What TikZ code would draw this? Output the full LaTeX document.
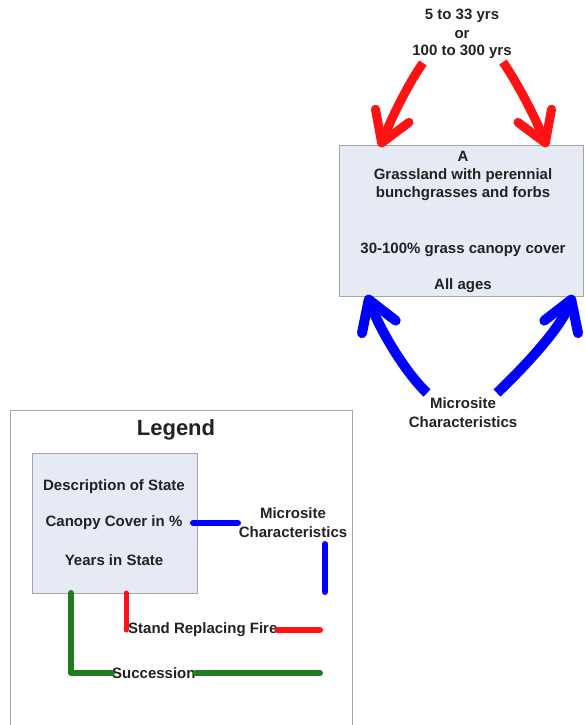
\documentclass[tikz,border=0pt]{standalone}
\usepackage{fontspec}
\setmainfont{Liberation Sans}
\usetikzlibrary{arrows.meta}
\definecolor{statefill}{HTML}{E6EAF4}
\definecolor{boxedge}{HTML}{A6A6A6}
\definecolor{redarr}{HTML}{FF1212}
\definecolor{bluearr}{HTML}{0000FF}
\definecolor{greenarr}{HTML}{207A20}
\definecolor{txt}{HTML}{222222}
\begin{document}
\begin{tikzpicture}[x=1pt,y=-1pt,
  lbl/.style={font=\bfseries\fontsize{15}{19}\selectfont, align=center, inner sep=0pt, text=txt},
  bl/.style={lbl, anchor=base},
  statebox/.style={draw=boxedge, fill=statefill, line width=1pt, inner sep=0pt, anchor=north west},
  bigarrow/.style={line width=9pt, -{Straight Barb[length=29pt,width=36pt,round]}},
  legline/.style={line width=6pt, line cap=round, line join=round}]
\useasboundingbox (0,0) rectangle (584,725);

% ---- main state ----
\node[statebox, minimum width=244pt, minimum height=151pt] (A) at (339,145) {};
\node[bl] (Aname) at (463,161) {A};
\node[bl] (Adesc1) at (463,179) {Grassland with perennial};
\node[bl] (Adesc2) at (463,197) {bunchgrasses and forbs};
\node[bl] (Acover) at (463,253) {30-100\% grass canopy cover};
\node[bl] (Aages) at (463,289) {All ages};

\node[bl] (yrs1) at (462,20) {5 to 33 yrs};
\node[bl] (yrs2) at (462,38) {or};
\node[bl] (yrs3) at (462,56) {100 to 300 yrs};
\node[bl] (micro1) at (463,408) {Microsite};
\node[bl] (micro2) at (463,427) {Characteristics};

% arrow end coordinates
\coordinate (r1s) at (423,63);  \coordinate (r1e) at (380,147);
\coordinate (r2s) at (503,62);  \coordinate (r2e) at (547,147);
\coordinate (b1s) at (427,393); \coordinate (b1e) at (367,295);
\coordinate (b2s) at (497,393); \coordinate (b2e) at (573,295);

\draw[bigarrow, redarr] (r1s) .. controls (408,84) and (391,119) .. (r1e);
\draw[bigarrow, redarr] (r2s) .. controls (518,84) and (536,119) .. (r2e);
\draw[bigarrow, bluearr, line width=10pt] (b1s) .. controls (405,372) and (380,330) .. (b1e);
\draw[bigarrow, bluearr, line width=10pt] (b2s) .. controls (519,372) and (560,330) .. (b2e);

% ---- legend ----
\node[draw=boxedge, fill=white, line width=1pt, minimum width=342pt, minimum height=330pt, anchor=north west, inner sep=0pt] (legend) at (10,410) {};
\node[lbl, font=\bfseries\fontsize{22}{26}\selectfont] (legtitle) at (176,430) {Legend};
\node[statebox, minimum width=165pt, minimum height=140pt] (L) at (32,453) {};
\node[lbl] (Ldesc) at (114,487) {Description of State};
\node[lbl] (Lcover) at (114,523) {Canopy Cover in \%};
\node[lbl] (Lyears) at (114,560) {Years in State};

\node[lbl] (Lmicro) at (293,523) {Microsite\\Characteristics};
\node[lbl, anchor=west] (Lfire) at (128,630) {Stand Replacing Fire};
\node[lbl, anchor=west] (Lsucc) at (112,673) {Succession};

\coordinate (bm1) at (193,523); \coordinate (bm2) at (238,523);
\coordinate (bv1) at (325,544); \coordinate (bv2) at (325,592);
\coordinate (rv1) at (126,593); \coordinate (rv2) at (126,630);
\coordinate (rh2) at (320,630);
\coordinate (gv1) at (71,593);  \coordinate (gh2) at (320,673);

\draw[legline, bluearr] (bm1) -- (bm2);
\draw[legline, bluearr] (bv1) -- (bv2);
\draw[legline, redarr, line width=5pt] (rv1) -- (rv2);
\draw[legline, redarr] (Lfire.east) -- (rh2);
\draw[legline, greenarr] (gv1) |- (Lsucc.west);
\draw[legline, greenarr] (Lsucc.east) -- (gh2);
\end{tikzpicture}
\end{document}
